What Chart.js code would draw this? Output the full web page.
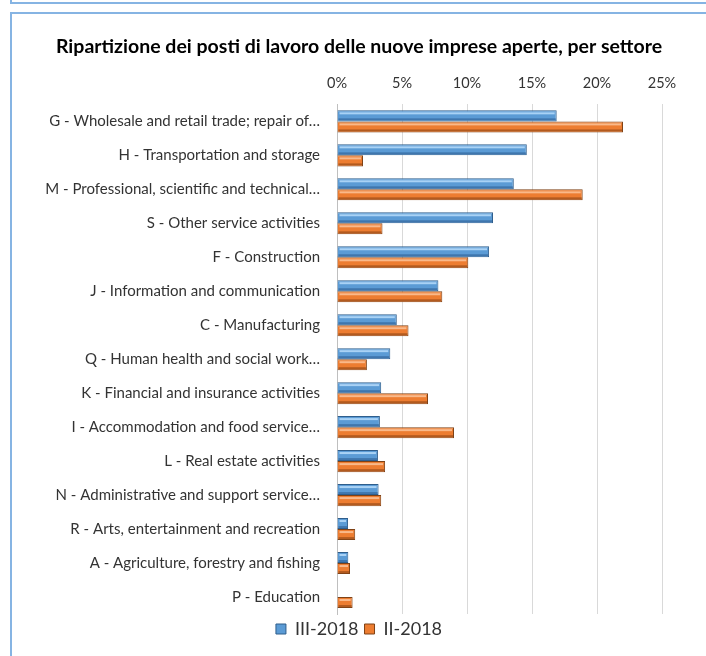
<!DOCTYPE html>
<html>
<head>
<meta charset="utf-8">
<script src="https://cdn.jsdelivr.net/npm/chart.js@4.4.0/dist/chart.umd.min.js"></script>
<style>
  body { margin: 0; background: #fff; overflow: hidden; }
  #prev { position: absolute; left: 10px; top: -10px; width: 720px; height: 12px;
          border-left: 2px solid #86b4e3; border-bottom: 2px solid #86b4e3; }
  #box { position: absolute; left: 10px; top: 12px; width: 720px; height: 700px;
         border-left: 2px solid #86b4e3; border-top: 2px solid #86b4e3; }
  #wrap { position: absolute; left: 12px; top: 14px; width: 694px; height: 642px; }
</style>
</head>
<body>
<div id="prev"></div>
<div id="box"></div>
<div id="wrap"><canvas id="chart"></canvas></div>
<script>
const sectors = [
  "G - Wholesale and retail trade; repair of…",
  "H - Transportation and storage",
  "M - Professional, scientific and technical…",
  "S - Other service activities",
  "F - Construction",
  "J - Information and communication",
  "C - Manufacturing",
  "Q - Human health and social work…",
  "K - Financial and insurance activities",
  "I - Accommodation and food service…",
  "L - Real estate activities",
  "N - Administrative and support service…",
  "R - Arts, entertainment and recreation",
  "A - Agriculture, forestry and fishing",
  "P - Education"
];
const q3_2018 = [16.9, 14.6, 13.6, 12.0, 11.7, 7.8, 4.6, 4.1, 3.4, 3.3, 3.15, 3.2, 0.85, 0.87, 0];
const q2_2018 = [22.0, 2.0, 18.9, 3.5, 10.1, 8.1, 5.5, 2.3, 7.0, 9.0, 3.7, 3.4, 1.4, 1.0, 1.2];
const xTicks = [0, 5, 10, 15, 20, 25];

// little bevel on each bar, like the Excel 3D look
const bevel = {
  id: "bevel",
  afterDatasetsDraw(chart) {
    const ctx = chart.ctx;
    const lights = ["#a9d2f5", "#f9b98a"];
    const darks = ["#3f76ad", "#b25a1f"];
    chart.data.datasets.forEach((ds, i) => {
      const meta = chart.getDatasetMeta(i);
      meta.data.forEach((bar) => {
        const w = bar.x - bar.base;
        if (w < 3) return;
        const top = bar.y - bar.height / 2;
        ctx.save();
        ctx.fillStyle = lights[i];
        ctx.fillRect(bar.base + 2, top + 2, w - 4, 2);
        ctx.fillStyle = darks[i];
        ctx.fillRect(bar.base + 1, top + bar.height - 3, w - 2, 2);
        ctx.restore();
      });
    });
  },
};

const ctx = document.getElementById("chart").getContext("2d");
const chart = new Chart(ctx, {
  type: "bar",
  data: {
    labels: sectors,
    datasets: [
      {
        label: "III-2018",
        data: q3_2018,
        backgroundColor: "#5b9bd5",
        borderColor: "#2f5e8c",
        borderWidth: 1,
      },
      {
        label: "II-2018",
        data: q2_2018,
        backgroundColor: "#ed7d31",
        borderColor: "#7f4216",
        borderWidth: 1,
      },
    ],
  },
  options: {
    indexAxis: "y",
    responsive: true,
    maintainAspectRatio: false,
    animation: false,
    events: [],
    layout: { padding: { left: 0, right: 0, top: 0, bottom: 8 } },
    datasets: {
      bar: { categoryPercentage: 0.65, barPercentage: 1 },
    },
    scales: {
      x: {
        position: "top",
        min: 0,
        max: 25,
        afterBuildTicks: (scale) => {
          scale.ticks = xTicks.map((v) => ({ value: v }));
        },
        afterFit: (scale) => {
          scale.height = 28;
        },
        ticks: {
          callback: (v) => v + "%",
          color: "#333",
          font: { family: "Lato", size: 14.5 },
          padding: 12,
        },
        grid: { color: "#d9d9d9", drawTicks: false },
        border: { display: false },
      },
      y: {
        afterFit: (scale) => {
          scale.width = 325;
        },
        ticks: {
          color: "#333",
          font: { family: "Lato", size: 15 },
          padding: 9,
        },
        grid: { display: false },
        border: { display: true, color: "#bfbfbf" },
      },
      // empty right-hand gutter so title and legend stay centred on the whole box
      gutter: {
        type: "category",
        position: "right",
        afterFit: (scale) => {
          scale.width = 44;
        },
        ticks: { display: false },
        grid: { display: false },
        border: { display: false },
      },
    },
    plugins: {
      title: {
        display: true,
        text: "Ripartizione dei posti di lavoro delle nuove imprese aperte, per settore",
        color: "#000",
        font: { family: "Lato", size: 19.5, weight: "bold" },
        padding: { top: 21, bottom: 18 },
      },
      legend: {
        position: "bottom",
        labels: {
          boxWidth: 10,
          boxHeight: 10,
          padding: 6,
          color: "#333",
          font: { family: "Lato", size: 18 },
        },
      },
      tooltip: { enabled: false },
    },
  },
  plugins: [bevel],
});
</script>
</body>
</html>
